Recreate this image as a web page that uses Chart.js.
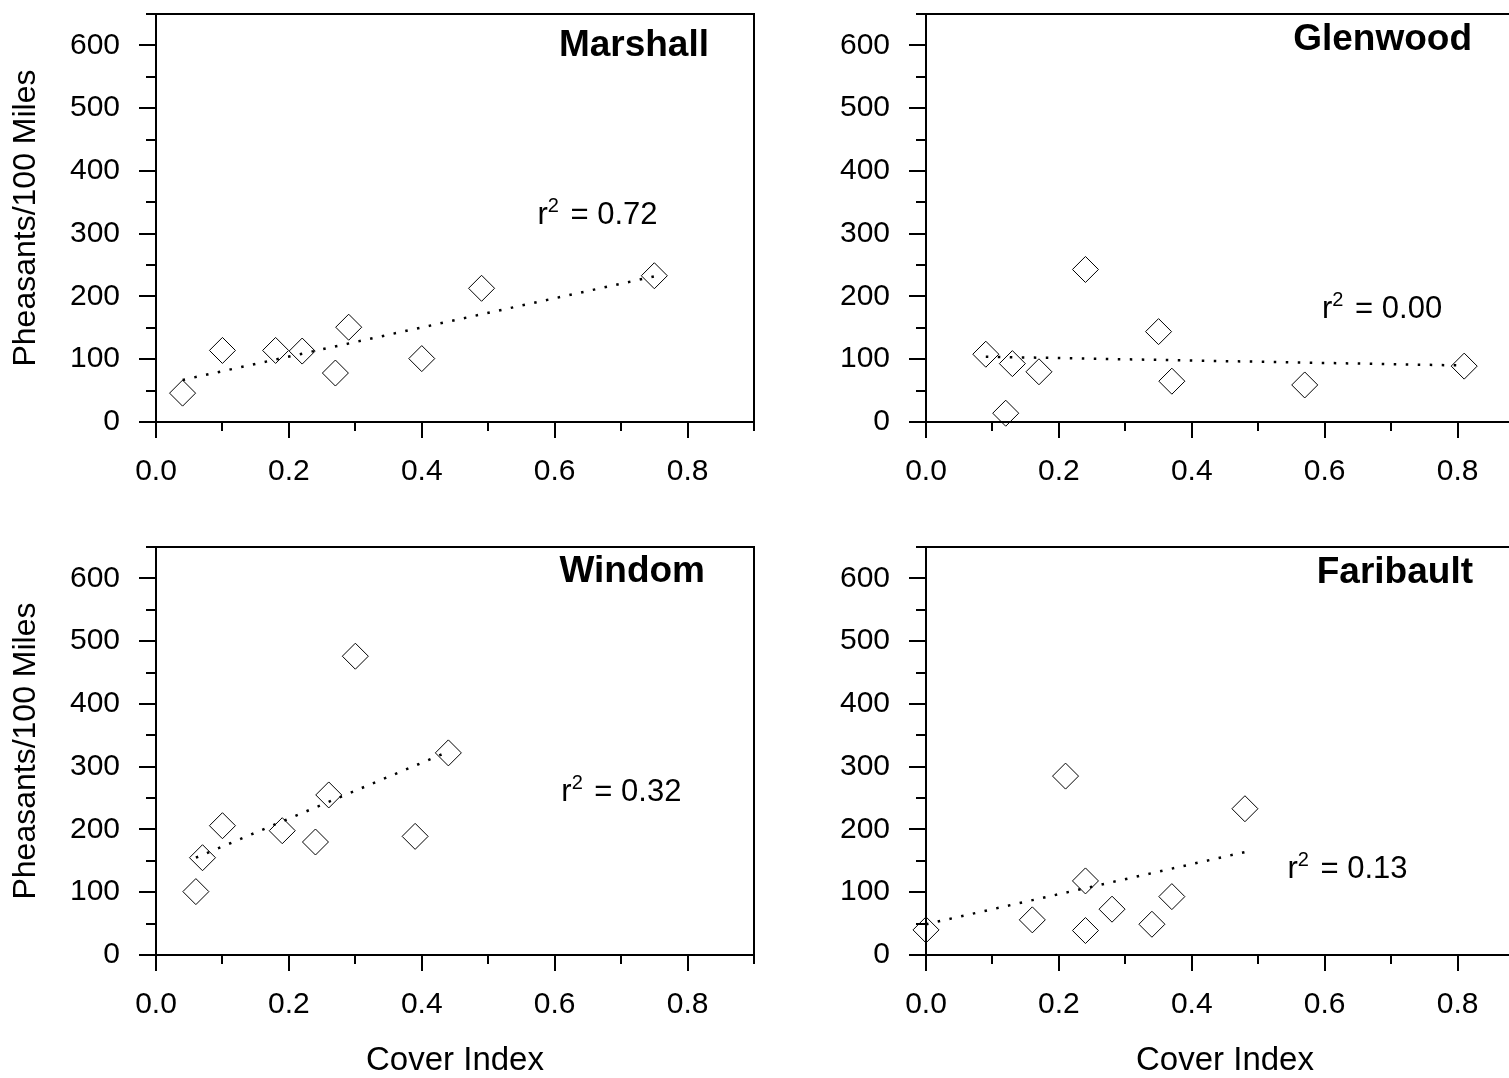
<!DOCTYPE html>
<html>
<head>
<meta charset="utf-8">
<script src="https://cdn.jsdelivr.net/npm/chart.js@4.4.0/dist/chart.umd.min.js"></script>
<style>
  html, body { margin: 0; padding: 0; background: #fff; overflow: hidden; }
  body { width: 1509px; height: 1078px; position: relative; }
  .panel { position: absolute; overflow: hidden; }
  canvas { display: block; }
</style>
</head>
<body>
<div class="panel" style="left:0px;top:0px;width:770px;height:533px"><canvas id="marshallChart" width="770" height="533"></canvas></div>
<div class="panel" style="left:770px;top:0px;width:739px;height:533px"><canvas id="glenwoodChart" width="770" height="533"></canvas></div>
<div class="panel" style="left:0px;top:533px;width:770px;height:545px"><canvas id="windomChart" width="770" height="545"></canvas></div>
<div class="panel" style="left:770px;top:533px;width:739px;height:545px"><canvas id="faribaultChart" width="770" height="545"></canvas></div>
<script>
// cover index (x) and pheasants per 100 miles (y)
const marshallCover = [0.04, 0.10, 0.18, 0.22, 0.27, 0.29, 0.40, 0.49, 0.75];
const marshallPheasants = [46, 114, 114, 113, 78, 151, 101, 213, 233];
const marshallTrendCover = [0.04, 0.75];
const marshallTrendPheasants = [67, 232];

const glenwoodCover = [0.09, 0.13, 0.17, 0.12, 0.24, 0.35, 0.37, 0.57, 0.81];
const glenwoodPheasants = [108, 93, 80, 14, 243, 144, 65, 59, 89];
const glenwoodTrendCover = [0.09, 0.81];
const glenwoodTrendPheasants = [104, 90];

const windomCover = [0.06, 0.07, 0.10, 0.19, 0.24, 0.26, 0.30, 0.39, 0.44];
const windomPheasants = [101, 155, 206, 198, 180, 255, 476, 189, 322];
const windomTrendCover = [0.06, 0.44];
const windomTrendPheasants = [155, 324];

const faribaultCover = [0.00, 0.16, 0.21, 0.24, 0.24, 0.28, 0.34, 0.37, 0.48];
const faribaultPheasants = [40, 56, 285, 118, 39, 73, 49, 93, 233];
const faribaultTrendCover = [0.00, 0.48];
const faribaultTrendPheasants = [49, 164];

const r2Values = ["0.72", "0.00", "0.32", "0.13"];
const r2Cover = [0.574, 0.596, 0.61, 0.544];
const r2Pheasants = [331, 181, 261, 138];

const FONT = '"Liberation Sans", Arial, sans-serif';

function toPoints(xs, ys) {
  return xs.map((v, i) => ({ x: v, y: ys[i] }));
}

// box, major/minor tick marks, panel name and r² label
const framePlugin = {
  id: 'frame',
  afterDraw(chart, args, opts) {
    const { ctx, chartArea: a, scales: { x, y } } = chart;
    ctx.save();
    ctx.strokeStyle = '#000';
    ctx.lineWidth = 2;
    ctx.beginPath();
    ctx.moveTo(a.left, a.top);
    ctx.lineTo(a.left, a.bottom);
    ctx.lineTo(a.right, a.bottom);
    if (opts.rightBorder) ctx.lineTo(a.right, a.top);
    else ctx.moveTo(a.right, a.top);
    ctx.lineTo(a.left, a.top);
    x.ticks.forEach(t => {
      const px = Math.round(x.getPixelForValue(t.value));
      const major = Math.round(t.value * 10) % 2 === 0;
      ctx.moveTo(px, a.bottom);
      ctx.lineTo(px, a.bottom + (major ? 16 : 9));
    });
    y.ticks.forEach(t => {
      const py = Math.round(y.getPixelForValue(t.value));
      const major = t.value % 100 === 0;
      ctx.moveTo(a.left - (major ? 17 : 10), py);
      ctx.lineTo(a.left, py);
    });
    ctx.stroke();

    ctx.fillStyle = '#000';
    ctx.font = 'bold 37px ' + FONT;
    ctx.textAlign = 'right';
    ctx.textBaseline = 'middle';
    ctx.fillText(opts.name, a.right - opts.nameDx, a.top + opts.nameDy);

    const lx = x.getPixelForValue(opts.r2x);
    const ly = y.getPixelForValue(opts.r2y);
    ctx.textAlign = 'left';
    ctx.textBaseline = 'alphabetic';
    ctx.font = '31px ' + FONT;
    const base = ly + 10;
    ctx.fillText('r', lx, base);
    let cx = lx + ctx.measureText('r').width;
    ctx.font = '20px ' + FONT;
    ctx.fillText('2', cx, base - 12);
    cx += ctx.measureText('2').width + 3;
    ctx.font = '31px ' + FONT;
    ctx.fillText(' = ' + opts.r2, cx, base);
    ctx.restore();
  }
};

function makeChart(id, cover, pheasants, trendCover, trendPheasants, panel) {
  const ctx = document.getElementById(id).getContext('2d');
  const axisHeight = ctx.canvas.height - 422;
  return new Chart(ctx, {
    type: 'scatter',
    data: {
      datasets: [
        {
          data: toPoints(cover, pheasants),
          pointStyle: 'rectRot',
          pointRadius: 13,
          pointHoverRadius: 13,
          borderColor: '#000',
          borderWidth: 1,
          backgroundColor: 'rgba(0,0,0,0)',
          clip: false,
        },
        {
          type: 'line',
          data: toPoints(trendCover, trendPheasants),
          borderColor: '#000',
          borderWidth: 2.5,
          borderDash: [2.5, 9.5],
          pointRadius: 0,
          fill: false,
          clip: false,
        },
      ],
    },
    options: {
      responsive: false,
      animation: false,
      events: [],
      layout: { padding: { top: 12, right: 16, left: 0, bottom: 0 } },
      plugins: {
        legend: { display: false },
        tooltip: { enabled: false },
        frame: panel,
      },
      scales: {
        x: {
          type: 'linear',
          min: 0,
          max: 0.9,
          border: { display: false },
          grid: { drawOnChartArea: false, tickLength: 17, tickColor: 'rgba(0,0,0,0)' },
          ticks: {
            stepSize: 0.1,
            padding: 15,
            color: '#000',
            font: { family: FONT, size: 30 },
            maxRotation: 0,
            autoSkip: false,
            callback: v => (Math.round(v * 10) % 2 === 0 ? v.toFixed(1) : ''),
          },
          title: {
            display: panel.xTitle,
            text: 'Cover Index',
            color: '#000',
            font: { family: FONT, size: 33, lineHeight: 1 },
            padding: { top: 0, bottom: 1 },
          },
          afterFit: s => {
            s.height = axisHeight;
            s.paddingLeft = 0;
            s.paddingRight = 0;
          },
        },
        y: {
          min: 0,
          max: 650,
          border: { display: false },
          grid: { drawOnChartArea: false, tickLength: 17, tickColor: 'rgba(0,0,0,0)' },
          ticks: {
            stepSize: 50,
            padding: 19,
            color: '#000',
            font: { family: FONT, size: 30 },
            autoSkip: false,
            callback: v => (v % 100 === 0 ? String(v) : ''),
          },
          title: {
            display: panel.yTitle,
            text: 'Pheasants/100 Miles',
            color: '#000',
            font: { family: FONT, size: 32, lineHeight: 1 },
            padding: { top: 10, bottom: 0 },
          },
          afterFit: s => {
            s.width = 156;
            s.paddingTop = 0;
            s.paddingBottom = 0;
          },
        },
      },
    },
    plugins: [framePlugin],
  });
}

makeChart('marshallChart', marshallCover, marshallPheasants, marshallTrendCover, marshallTrendPheasants,
  { name: 'Marshall', nameDx: 45, nameDy: 32, r2: r2Values[0], r2x: r2Cover[0], r2y: r2Pheasants[0], xTitle: false, yTitle: true, rightBorder: true });
makeChart('glenwoodChart', glenwoodCover, glenwoodPheasants, glenwoodTrendCover, glenwoodTrendPheasants,
  { name: 'Glenwood', nameDx: 52, nameDy: 26, r2: r2Values[1], r2x: r2Cover[1], r2y: r2Pheasants[1], xTitle: false, yTitle: false, rightBorder: false });
makeChart('windomChart', windomCover, windomPheasants, windomTrendCover, windomTrendPheasants,
  { name: 'Windom', nameDx: 49, nameDy: 25, r2: r2Values[2], r2x: r2Cover[2], r2y: r2Pheasants[2], xTitle: true, yTitle: true, rightBorder: true });
makeChart('faribaultChart', faribaultCover, faribaultPheasants, faribaultTrendCover, faribaultTrendPheasants,
  { name: 'Faribault', nameDx: 51, nameDy: 26, r2: r2Values[3], r2x: r2Cover[3], r2y: r2Pheasants[3], xTitle: true, yTitle: false, rightBorder: false });
</script>
</body>
</html>
